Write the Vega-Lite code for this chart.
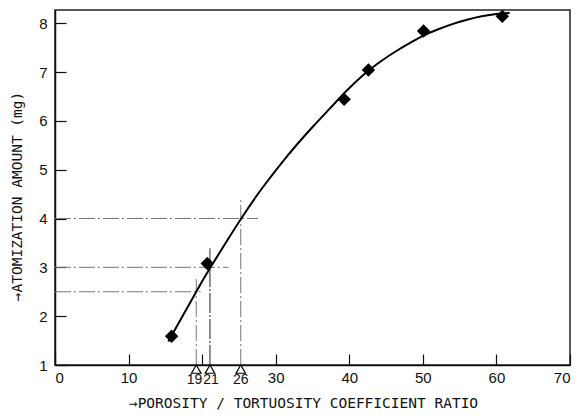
{
  "$schema": "https://vega.github.io/schema/vega-lite/v6.json",
  "width": 515,
  "height": 355,
  "autosize": {"type": "none"},
  "padding": {"left": 55, "top": 10, "right": 8, "bottom": 53},
  "background": "white",
  "config": {
    "view": {"stroke": "#222", "strokeWidth": 1.5},
    "axis": {
      "grid": false,
      "domainColor": "#111",
      "domainWidth": 1.5,
      "tickColor": "#111",
      "tickWidth": 1.2,
      "tickSize": -11,
      "labelFont": "Liberation Sans",
      "labelFontSize": 15,
      "labelColor": "#111",
      "titleFont": "DejaVu Sans Mono",
      "titleFontSize": 14.5,
      "titleFontWeight": "normal",
      "titleColor": "#111"
    }
  },
  "datasets": {
    "curve": [
      {"x": 15.4, "y": 1.48},
      {"x": 19.2, "y": 2.5},
      {"x": 21.06, "y": 2.98},
      {"x": 25.27, "y": 3.99},
      {"x": 28.3, "y": 4.65},
      {"x": 30.6, "y": 5.1},
      {"x": 32.8, "y": 5.5},
      {"x": 35.1, "y": 5.89},
      {"x": 37.4, "y": 6.26},
      {"x": 39.6, "y": 6.61},
      {"x": 41.9, "y": 6.94},
      {"x": 44.2, "y": 7.21},
      {"x": 46.4, "y": 7.43},
      {"x": 48.2, "y": 7.59},
      {"x": 50.0, "y": 7.74},
      {"x": 52.0, "y": 7.87},
      {"x": 54.0, "y": 7.98},
      {"x": 56.0, "y": 8.07},
      {"x": 58.0, "y": 8.14},
      {"x": 60.0, "y": 8.19},
      {"x": 61.8, "y": 8.21}
    ],
    "points": [
      {"x": 15.85, "y": 1.59},
      {"x": 20.7, "y": 3.08},
      {"x": 39.3, "y": 6.44},
      {"x": 42.6, "y": 7.04},
      {"x": 50.1, "y": 7.84},
      {"x": 60.8, "y": 8.14}
    ],
    "guides": [
      {"x": 0, "x2": 27.6, "y": 4, "y2": 4},
      {"x": 0, "x2": 23.6, "y": 3, "y2": 3},
      {"x": 0, "x2": 19.8, "y": 2.5, "y2": 2.5},
      {"x": 19.2, "x2": 19.2, "y": 1, "y2": 2.76},
      {"x": 25.25, "x2": 25.25, "y": 1, "y2": 4.43}
    ],
    "guide21": [
      {"x": 21.06, "x2": 21.06, "y": 1, "y2": 3.39}
    ],
    "marks": [
      {"x": 19.2, "y": 0.915, "lx": 18.95, "ty": 0.7, "label": "19"},
      {"x": 21.06, "y": 0.915, "lx": 21.2, "ty": 0.7, "label": "21"},
      {"x": 25.25, "y": 0.915, "lx": 25.25, "ty": 0.7, "label": "26"}
    ]
  },
  "layer": [
    {
      "data": {"name": "guides"},
      "mark": {"type": "rule", "color": "#777", "strokeWidth": 1, "strokeDash": [16, 3, 2, 3]},
      "encoding": {
        "x": {"field": "x", "type": "quantitative", "scale": {"domain": [0, 70], "nice": false}},
        "x2": {"field": "x2"},
        "y": {"field": "y", "type": "quantitative", "scale": {"domain": [1, 8.27], "nice": false}},
        "y2": {"field": "y2"}
      }
    },
    {
      "data": {"name": "guide21"},
      "mark": {"type": "rule", "color": "#222", "strokeWidth": 1, "strokeDash": [20, 2, 2, 2]},
      "encoding": {
        "x": {"field": "x", "type": "quantitative"},
        "x2": {"field": "x2"},
        "y": {"field": "y", "type": "quantitative"},
        "y2": {"field": "y2"}
      }
    },
    {
      "data": {"name": "curve"},
      "mark": {"type": "line", "color": "#000", "strokeWidth": 2, "interpolate": "natural"},
      "encoding": {
        "x": {"field": "x", "type": "quantitative"},
        "y": {"field": "y", "type": "quantitative"}
      }
    },
    {
      "data": {"name": "points"},
      "mark": {"type": "point", "shape": "diamond", "filled": true, "color": "#000", "size": 180, "opacity": 1},
      "encoding": {
        "x": {"field": "x", "type": "quantitative"},
        "y": {"field": "y", "type": "quantitative"}
      }
    },
    {
      "data": {"name": "marks"},
      "mark": {"type": "point", "shape": "triangle-up", "filled": true, "fill": "white", "stroke": "#000", "strokeWidth": 1.2, "size": 90, "opacity": 1},
      "encoding": {
        "x": {"field": "x", "type": "quantitative"},
        "y": {"field": "y", "type": "quantitative"}
      }
    },
    {
      "data": {"name": "marks"},
      "mark": {"type": "text", "font": "Liberation Sans", "fontSize": 14, "color": "#111", "baseline": "middle", "align": "center"},
      "encoding": {
        "x": {"field": "lx", "type": "quantitative"},
        "y": {"field": "ty", "type": "quantitative"},
        "text": {"field": "label"}
      }
    },
    {
      "data": {"values": [{}]},
      "mark": {"type": "rule", "opacity": 0},
      "encoding": {
        "x": {"datum": 0, "type": "quantitative", "axis": {
          "values": [0, 10, 20, 30, 40, 50, 60, 70],
          "labelExpr": "datum.value == 20 ? '' : datum.label",
          "labelPadding": 16,
          "title": "→POROSITY / TORTUOSITY COEFFICIENT RATIO",
          "titleX": 248,
          "titleY": 42,
          "titleBaseline": "alphabetic"
        }},
        "y": {"datum": 1, "type": "quantitative", "axis": {
          "values": [1, 2, 3, 4, 5, 6, 7, 8],
          "labelPadding": 19,
          "title": "→ATOMIZATION AMOUNT (mg)",
          "titleX": -34,
          "titleY": 186,
          "titleBaseline": "alphabetic"
        }}
      }
    }
  ]
}
